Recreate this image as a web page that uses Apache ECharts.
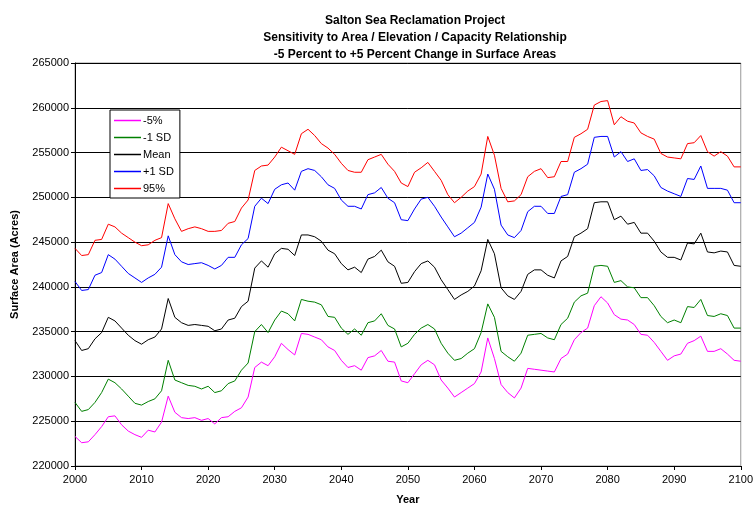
<!DOCTYPE html>
<html>
<head>
<meta charset="utf-8">
<script src="https://cdn.jsdelivr.net/npm/echarts@6/dist/echarts.min.js"></script>
<style>
  html, body { margin: 0; padding: 0; background: #fff; }
  #container { width: 756px; height: 510px; }
</style>
</head>
<body>
<div id="container"></div>
<script>
// data, one value per year 2000..2100
var years = [];
for (var y = 2000; y <= 2100; y++) { years.push(y); }

var yTicks = [220000, 225000, 230000, 235000, 240000, 245000, 250000, 255000, 260000, 265000];

var minus5 = [
    223300, 222600, 222700, 223500, 224400, 225500, 225600, 224600, 223900, 223500, 223200, 224000, 223800, 224900, 227800,
    226000, 225400, 225300, 225400, 225100, 225300, 224700, 225400, 225500, 226100, 226500, 227700, 231000, 231600,
    231200, 232200, 233700, 233000, 232400, 234800, 234700, 234400, 234100, 233300, 232900, 231800, 231000, 231200, 230700,
    232100, 232300, 232900, 231700, 231600, 229500, 229300, 230300, 231300, 231800, 231300, 229600, 228700, 227700,
    228200, 228700, 229200, 230500, 234300, 232000, 229100, 228200, 227600, 228700, 230900, 230800, 230700, 230600,
    230500, 232000, 232500, 234100, 234900, 235400, 237900, 238900, 238200, 236900, 236400, 236300, 235800, 234700, 234600,
    233800, 232800, 231800, 232300, 232500, 233700, 234000, 234500, 232800, 232800, 233100, 232500, 231800, 231700
];
var minus1sd = [
    227100, 226100, 226300, 227100, 228200, 229700, 229300, 228600, 227800, 227000, 226800, 227200, 227500, 228400, 231800,
    229600, 229300, 229000, 228900, 228600, 228900, 228200, 228400, 229200, 229500, 230700, 231500, 235000, 235800,
    234900, 236300, 237300, 237000, 236200, 238600, 238400, 238300, 238000, 236700, 236600, 235400, 234700, 235300, 234600,
    236000, 236200, 237000, 235700, 235300, 233300, 233700, 234700, 235400, 235800, 235300, 233700, 232600, 231800,
    232000, 232600, 233100, 234900, 238100, 236600, 232800, 232200, 231700, 232600, 234600, 234700, 234800, 234300,
    234100, 235800, 236500, 238300, 239000, 239300, 242300, 242400, 242300, 240500, 240700, 240000, 239900, 238800, 238800,
    237900, 236700, 236000, 236300, 236000, 237800, 237700, 238600, 236800, 236700, 237000, 236800, 235400, 235400
];
var mean = [
    234000, 232900, 233100, 234200, 234900, 236600, 236200, 235400, 234600, 234000, 233600, 234100, 234400, 235300, 238700,
    236600, 236000, 235700, 235800, 235700, 235600, 235100, 235300, 236300, 236500, 237800, 238400, 242100, 242900,
    242200, 243700, 244300, 244200, 243500, 245800, 245800, 245600, 245100, 244100, 243700, 242600, 241900, 242200, 241600,
    243100, 243400, 244100, 242800, 242300, 240400, 240500, 241700, 242600, 242900, 242200, 240800, 239700, 238600,
    239100, 239500, 240100, 241800, 245300, 243700, 239900, 239000, 238600, 239500, 241400, 241900, 241900, 241300,
    241000, 242900, 243400, 245600, 246000, 246500, 249400, 249500, 249500, 247500, 247900, 247000, 247200, 246000, 246000,
    245100, 243900, 243300, 243300, 243000, 244900, 244800, 246000, 243900, 243800, 244000, 243900, 242400, 242300
];
var plus1sd = [
    240600, 239600, 239700, 241300, 241600, 243600, 243100, 242300, 241500, 241000, 240500, 241000, 241400, 242200, 245700,
    243600, 242800, 242500, 242600, 242700, 242400, 242000, 242400, 243300, 243300, 244700, 245400, 249000, 249900,
    249300, 250900, 251400, 251600, 250800, 252900, 253200, 253000, 252300, 251400, 251000, 249700, 249000, 249000, 248700,
    250300, 250500, 251100, 249900, 249400, 247500, 247400, 248700, 249800, 250000, 249000, 247800, 246700, 245600,
    246000, 246600, 247200, 248900, 252600, 250900, 246900, 245800, 245500, 246300, 248400, 249000, 249000, 248200,
    248200, 250100, 250300, 252800, 253200, 253700, 256700, 256800, 256800, 254500, 255100, 254000, 254300, 253000, 253100,
    252400, 251100, 250700, 250400, 250100, 252100, 252000, 253500, 251000, 251000, 251000, 250800, 249400, 249400
];
var pct95 = [
    244300, 243500, 243600, 245200, 245300, 247000, 246700, 246000, 245500, 245000, 244600, 244700, 245200, 245500, 249300,
    247600, 246200, 246500, 246700, 246500, 246200, 246200, 246300, 247100, 247300, 248800, 249700, 253000, 253500,
    253600, 254500, 255600, 255200, 254800, 257100, 257600, 256900, 256000, 255500, 254800, 253800, 253000, 252800, 252800,
    254200, 254500, 254800, 253700, 252900, 251600, 251200, 252800, 253300, 253900, 252900, 251900, 250300, 249400,
    250000, 250700, 251200, 252600, 256800, 254700, 251000, 249500, 249600, 250300, 252300, 252900, 253200, 252200,
    252300, 254000, 254000, 256700, 257100, 257600, 260300, 260700, 260800, 258100, 259000, 258500, 258300, 257200, 256800,
    256500, 254900, 254500, 254400, 254300, 256000, 256100, 256900, 255100, 254600, 255100, 254600, 253400, 253400
];

var seriesNames = ['-5%', '-1 SD', 'Mean', '+1 SD', '95%'];
var seriesColors = ['#ff00ff', '#008000', '#000000', '#0000ff', '#ff0000'];
var seriesData = [minus5, minus1sd, mean, plus1sd, pct95];

function pairs(vals) {
    return vals.map(function (v, i) { return [years[i], v]; });
}

var font = 'Liberation Sans, Arial, sans-serif';
var myChart = echarts.init(document.getElementById('container'));

var option = {
    backgroundColor: '#fff',
    animation: false,
    title: {
        text: 'Salton Sea Reclamation Project\nSensitivity to Area / Elevation / Capacity Relationship\n-5 Percent to +5 Percent Change in Surface Areas',
        left: 410,
        top: 7,
        textAlign: 'center',
        textStyle: {
            fontFamily: font,
            fontSize: 12,
            fontWeight: 'bold',
            color: '#000',
            lineHeight: 17
        }
    },
    legend: {
        orient: 'vertical',
        left: 110,
        top: 110,
        data: seriesNames,
        icon: 'rect',
        itemWidth: 27,
        itemHeight: 1.5,
        itemGap: 6,
        padding: [5, 6, 4, 4],
        borderColor: '#000',
        borderWidth: 1,
        backgroundColor: '#fff',
        textStyle: { fontFamily: font, fontSize: 11, color: '#000', padding: [0, 0, 0, -3] }
    },
    grid: {
        left: 75,
        right: 12,
        top: 63,
        bottom: 44,
        show: true,
        borderColor: '#999',
        borderWidth: 1
    },
    xAxis: {
        type: 'value',
        min: 2000,
        max: 2100,
        interval: 10,
        name: 'Year',
        nameLocation: 'middle',
        nameGap: 28,
        nameTextStyle: { fontFamily: font, fontSize: 11, fontWeight: 'bold', color: '#000' },
        axisLine: { onZero: false, lineStyle: { color: '#000' } },
        axisTick: { show: true, length: 4, inside: false, lineStyle: { color: '#000' } },
        axisLabel: {
            fontFamily: font, fontSize: 11, color: '#000', margin: 8,
            formatter: function (v) { return String(v); }
        },
        splitLine: { show: false }
    },
    yAxis: {
        type: 'value',
        min: yTicks[0],
        max: yTicks[yTicks.length - 1],
        interval: 5000,
        name: 'Surface Area (Acres)',
        nameLocation: 'middle',
        nameGap: 55,
        nameTextStyle: { fontFamily: font, fontSize: 11, fontWeight: 'bold', color: '#000' },
        axisLine: { show: true, lineStyle: { color: '#000' } },
        axisTick: { show: true, length: 4, lineStyle: { color: '#000' } },
        axisLabel: {
            fontFamily: font, fontSize: 11, color: '#000', margin: 6,
            formatter: function (v) { return String(v); }
        },
        splitLine: { show: true, lineStyle: { color: '#000', width: 1 } }
    },
    series: seriesNames.map(function (name, i) {
        return {
            name: name,
            type: 'line',
            data: pairs(seriesData[i]),
            symbol: 'none',
            lineStyle: { color: seriesColors[i], width: 1 },
            itemStyle: { color: seriesColors[i] }
        };
    })
};

myChart.setOption(option);
</script>
</body>
</html>
